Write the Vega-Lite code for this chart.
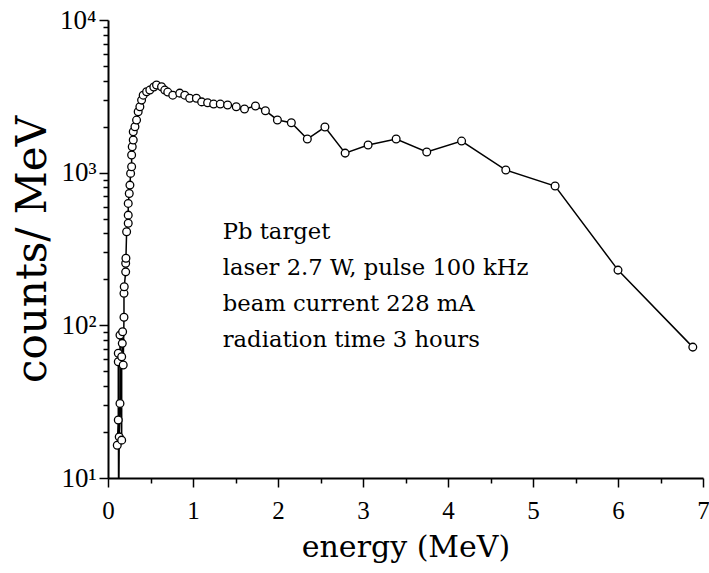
{
  "$schema": "https://vega.github.io/schema/vega-lite/v6.json",
  "width": 595,
  "height": 458,
  "autosize": {"type": "none"},
  "padding": {"left": 108, "top": 20, "right": 6, "bottom": 95},
  "background": "white",
  "config": {
    "view": {"stroke": null},
    "font": "Liberation Serif",
    "axis": {"domainColor": "black", "domainWidth": 2, "tickColor": "black", "tickWidth": 1.5, "labelColor": "black", "titleColor": "black", "labelFont": "Liberation Serif", "titleFont": "DejaVu Serif", "titleFontWeight": "normal", "grid": false}
  },
  "datasets": {
    "spec": [
      {"E": 0.125, "c": 5},
      {"E": 0.109, "c": 16.4},
      {"E": 0.121, "c": 24},
      {"E": 0.132, "c": 18.6},
      {"E": 0.141, "c": 30.8},
      {"E": 0.161, "c": 17.7},
      {"E": 0.121, "c": 57.8},
      {"E": 0.121, "c": 65.6},
      {"E": 0.141, "c": 86.3},
      {"E": 0.161, "c": 62.3},
      {"E": 0.168, "c": 76.2},
      {"E": 0.172, "c": 90.8},
      {"E": 0.179, "c": 55},
      {"E": 0.188, "c": 113},
      {"E": 0.188, "c": 162},
      {"E": 0.191, "c": 179},
      {"E": 0.208, "c": 224},
      {"E": 0.208, "c": 255},
      {"E": 0.211, "c": 275},
      {"E": 0.219, "c": 410},
      {"E": 0.238, "c": 466},
      {"E": 0.238, "c": 527},
      {"E": 0.238, "c": 629},
      {"E": 0.250, "c": 731},
      {"E": 0.258, "c": 829},
      {"E": 0.266, "c": 989},
      {"E": 0.278, "c": 1093},
      {"E": 0.278, "c": 1304},
      {"E": 0.285, "c": 1479},
      {"E": 0.297, "c": 1636},
      {"E": 0.297, "c": 1854},
      {"E": 0.317, "c": 1999},
      {"E": 0.336, "c": 2210},
      {"E": 0.355, "c": 2504},
      {"E": 0.375, "c": 2702},
      {"E": 0.395, "c": 2987},
      {"E": 0.414, "c": 3219},
      {"E": 0.454, "c": 3387},
      {"E": 0.492, "c": 3475},
      {"E": 0.539, "c": 3638},
      {"E": 0.571, "c": 3750},
      {"E": 0.630, "c": 3657},
      {"E": 0.668, "c": 3475},
      {"E": 0.703, "c": 3371},
      {"E": 0.762, "c": 3219},
      {"E": 0.844, "c": 3318},
      {"E": 0.903, "c": 3219},
      {"E": 0.961, "c": 3071},
      {"E": 1.040, "c": 3071},
      {"E": 1.102, "c": 2908},
      {"E": 1.172, "c": 2869},
      {"E": 1.243, "c": 2813},
      {"E": 1.321, "c": 2813},
      {"E": 1.407, "c": 2772},
      {"E": 1.509, "c": 2702},
      {"E": 1.606, "c": 2612},
      {"E": 1.735, "c": 2731},
      {"E": 1.852, "c": 2545},
      {"E": 1.993, "c": 2215},
      {"E": 2.157, "c": 2125},
      {"E": 2.345, "c": 1660},
      {"E": 2.552, "c": 1990},
      {"E": 2.79, "c": 1343},
      {"E": 3.06, "c": 1517},
      {"E": 3.39, "c": 1660},
      {"E": 3.75, "c": 1365},
      {"E": 4.16, "c": 1610},
      {"E": 4.68, "c": 1040},
      {"E": 5.26, "c": 817},
      {"E": 6.00, "c": 230},
      {"E": 6.88, "c": 72}
    ],
    "notes": [
      {"E": 1.35, "c": 408, "t": "Pb target"},
      {"E": 1.35, "c": 237, "t": "laser 2.7 W, pulse 100 kHz"},
      {"E": 1.35, "c": 138, "t": "beam current 228 mA"},
      {"E": 1.35, "c": 80, "t": "radiation time 3 hours"}
    ]
  },
  "layer": [
    {
      "data": {"name": "spec"},
      "mark": {"type": "line", "color": "black", "strokeWidth": 1.5, "clip": true},
      "encoding": {
        "x": {"field": "E", "type": "quantitative", "scale": {"domain": [0, 7], "nice": false, "zero": false},
          "axis": {"values": [0, 0.5, 1, 1.5, 2, 2.5, 3, 3.5, 4, 4.5, 5, 5.5, 6, 6.5, 7],
            "labelExpr": "datum.value % 1 == 0 ? format(datum.value, 'd') : ''",
            "tickSize": {"condition": {"test": "datum.value % 1 == 0", "value": 9}, "value": 5},
            "labelFontSize": 25, "labelPadding": 11, "labelFlush": false,
            "title": "energy (MeV)", "titleFontSize": 30, "titlePadding": 9}},
        "y": {"field": "c", "type": "quantitative", "scale": {"type": "log", "domain": [10, 10000], "nice": false},
          "axis": {"values": [10, 20, 30, 40, 50, 60, 70, 80, 90, 100, 200, 300, 400, 500, 600, 700, 800, 900, 1000, 2000, 3000, 4000, 5000, 6000, 7000, 8000, 9000, 10000],
            "labelExpr": "datum.value == 10 ? '10¹' : datum.value == 100 ? '10²' : datum.value == 1000 ? '10³' : datum.value == 10000 ? '10⁴' : ''",
            "tickSize": {"condition": {"test": "indexof([10,100,1000,10000], datum.value) >= 0", "value": 9}, "value": 5},
            "labelFontSize": 27, "labelPadding": 3, "labelFlush": false,
            "title": "counts/ MeV", "titleFontSize": 42, "titlePadding": 5}}
      }
    },
    {
      "data": {"name": "spec"},
      "mark": {"type": "point", "shape": "circle", "filled": true, "fill": "white", "stroke": "black", "strokeWidth": 1.3, "size": 60, "opacity": 1, "clip": true},
      "encoding": {
        "x": {"field": "E", "type": "quantitative"},
        "y": {"field": "c", "type": "quantitative"}
      }
    },
    {
      "data": {"name": "notes"},
      "mark": {"type": "text", "align": "left", "baseline": "middle", "fontSize": 22.7, "font": "DejaVu Serif", "color": "black"},
      "encoding": {
        "x": {"field": "E", "type": "quantitative"},
        "y": {"field": "c", "type": "quantitative"},
        "text": {"field": "t"}
      }
    }
  ]
}
